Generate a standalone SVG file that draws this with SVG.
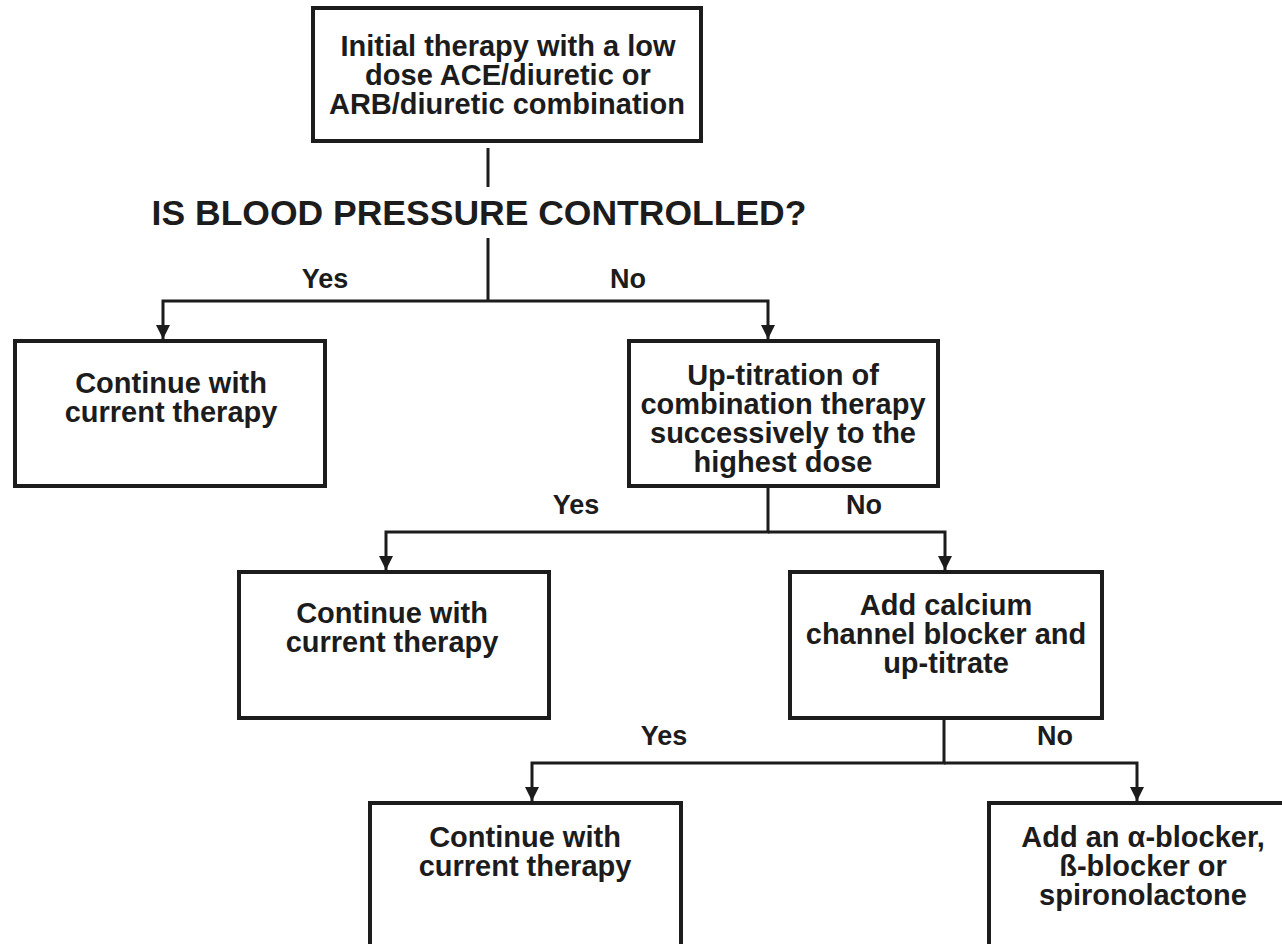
<svg xmlns="http://www.w3.org/2000/svg" width="1282" height="944" viewBox="0 0 1282 944">
<style>
.box{fill:#fff;stroke:#1c1c1c;stroke-width:4}
.con{fill:none;stroke:#1c1c1c;stroke-width:3}
.t{font-family:"Liberation Sans",Arial,sans-serif;font-weight:bold;font-size:29px;fill:#1c1c1c;text-anchor:middle}
.lbl{font-family:"Liberation Sans",Arial,sans-serif;font-weight:bold;font-size:27px;fill:#1c1c1c;text-anchor:middle}
.head{font-family:"Liberation Sans",Arial,sans-serif;font-weight:bold;font-size:35.5px;fill:#1c1c1c;text-anchor:middle}
</style>
<defs>
<marker id="arr" viewBox="0 0 14 14" refX="14" refY="7" markerWidth="14" markerHeight="14" markerUnits="userSpaceOnUse" orient="auto">
<path d="M0,0 L14,7 L0,14 z" fill="#1c1c1c"/>
</marker>
</defs>
<rect width="1282" height="944" fill="#fff"/>
<g id="connectors">
<path class="con" d="M488,148 V187"/>
<path class="con" d="M488,238 V301"/>
<path class="con" d="M488,301 H163 V339" marker-end="url(#arr)"/>
<path class="con" d="M488,301 H768 V339" marker-end="url(#arr)"/>
<path class="con" d="M768,487 V532 H386 V570" marker-end="url(#arr)"/>
<path class="con" d="M768,532 H945 V570" marker-end="url(#arr)"/>
<path class="con" d="M944,720 V763 H532 V801" marker-end="url(#arr)"/>
<path class="con" d="M944,763 H1137 V801" marker-end="url(#arr)"/>
</g>
<g id="labels">
<text class="head" x="479" y="225">IS BLOOD PRESSURE CONTROLLED?</text>
<text class="lbl" x="325" y="288">Yes</text>
<text class="lbl" x="628" y="288">No</text>
<text class="lbl" x="576" y="514">Yes</text>
<text class="lbl" x="864" y="514">No</text>
<text class="lbl" x="664" y="745">Yes</text>
<text class="lbl" x="1055" y="745">No</text>
</g>
<g id="n-initial">
<rect class="box" x="313" y="8" width="388" height="133"/>
<text class="t" x="508" y="56">Initial therapy with a low</text>
<text class="t" x="508" y="85">dose ACE/diuretic or</text>
<text class="t" x="507" y="114">ARB/diuretic combination</text>
</g>
<g id="n-continue1">
<rect class="box" x="15" y="341" width="310" height="145"/>
<text class="t" x="171" y="393">Continue with</text>
<text class="t" x="171" y="422">current therapy</text>
</g>
<g id="n-uptitration">
<rect class="box" x="629" y="341" width="309" height="145"/>
<text class="t" x="783" y="385">Up-titration of</text>
<text class="t" x="783" y="414">combination therapy</text>
<text class="t" x="783" y="443">successively to the</text>
<text class="t" x="783" y="472">highest dose</text>
</g>
<g id="n-continue2">
<rect class="box" x="239" y="572" width="310" height="146"/>
<text class="t" x="392" y="623">Continue with</text>
<text class="t" x="392" y="652">current therapy</text>
</g>
<g id="n-calcium">
<rect class="box" x="790" y="572" width="312" height="146"/>
<text class="t" x="946" y="615">Add calcium</text>
<text class="t" x="946" y="644">channel blocker and</text>
<text class="t" x="946" y="673">up-titrate</text>
</g>
<g id="n-continue3">
<rect class="box" x="370" y="803" width="311" height="170"/>
<text class="t" x="525" y="847">Continue with</text>
<text class="t" x="525" y="876">current therapy</text>
</g>
<g id="n-addblocker">
<rect class="box" x="989" y="803" width="330" height="170"/>
<text class="t" x="1143" y="847">Add an α-blocker,</text>
<text class="t" x="1143" y="876">ß-blocker or</text>
<text class="t" x="1143" y="905">spironolactone</text>
</g>
</svg>
